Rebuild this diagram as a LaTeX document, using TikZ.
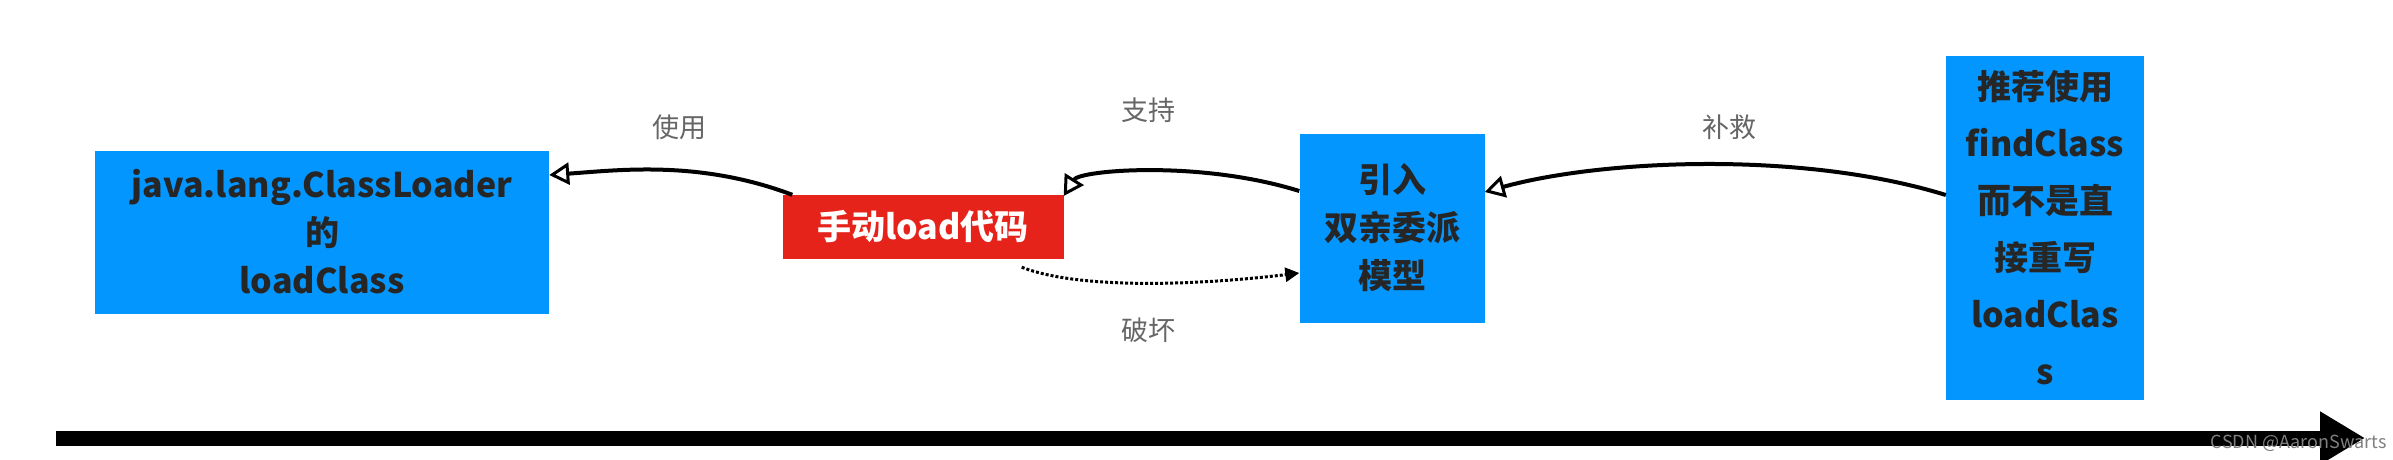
\documentclass[tikz,border=0pt]{standalone}
\usepackage{fontspec}
\setmainfont{Noto Sans CJK SC}
\usetikzlibrary{arrows.meta}
\definecolor{boxblue}{HTML}{0496FF}
\definecolor{boxred}{HTML}{E5231B}
\begin{document}
\begin{tikzpicture}[x=1pt,y=-1pt,
  bluebox/.style={fill=boxblue,inner sep=0pt,font=\fontsize{34}{48}\selectfont\bfseries,text=black!85,align=center},
  redbox/.style={fill=boxred,inner sep=0pt,font=\fontsize{34}{44}\selectfont\bfseries,text=white,align=center},
  lbl/.style={font=\fontsize{27}{30}\selectfont,text=black!60},
  con/.style={line width=4pt,-{Triangle[open,length=20pt,width=22pt,line width=3pt]}},
  dot/.style={line width=3pt,dotted,-{Triangle[length=14pt,width=14pt]}}]
\useasboundingbox[fill=white] (0,0) rectangle (2393,459);
\node[bluebox,minimum width=454pt,minimum height=163pt] (cl) at (322,232) {java.lang.ClassLoader\\的\\loadClass};
\node[redbox,minimum width=281pt,minimum height=64pt] (man) at (923,227) {手动load代码};
\node[bluebox,minimum width=185pt,minimum height=189pt] (pd) at (1392,228) {引入\\双亲委派\\模型};
\node[bluebox,minimum width=198pt,minimum height=344pt,font=\fontsize{34}{57}\selectfont\bfseries] (fc) at (2045,228) {推荐使用\\findClass\\而不是直\\接重写\\loadClas\\s};
\coordinate (tl) at (56,438);
\coordinate (tr) at (2365,438);
\draw[line width=15pt,-{Triangle[length=45pt,width=50pt]}] (tl) -- (tr);
\draw[con] (man.north west) ++(10,0) coordinate (a1) .. controls (700,160) and (620,170) .. (cl.east |- 0,175) coordinate (a2);
\draw[con] (pd.west |- 0,191) .. controls (1200,160) and (1080,170) .. (man.north east |- 0,196);
\draw[con] (fc.west |- 0,195) .. controls (1800,150) and (1600,160) .. (pd.east |- 0,192);
\draw[dot] (man.south east) ++(-42,8) .. controls (1080,290) and (1200,285) .. (pd.west |- 0,273);
\node[lbl] (l1) at (679,127) {使用};
\node[lbl] (l2) at (1148,110) {支持};
\node[lbl] (l3) at (1729,127) {补救};
\node[lbl] (l4) at (1148,330) {破坏};
\node[font=\fontsize{18}{20}\selectfont,text=black!50,anchor=south east] (wm) at (2390,455) {CSDN @AaronSwarts};
\end{tikzpicture}
\end{document}
